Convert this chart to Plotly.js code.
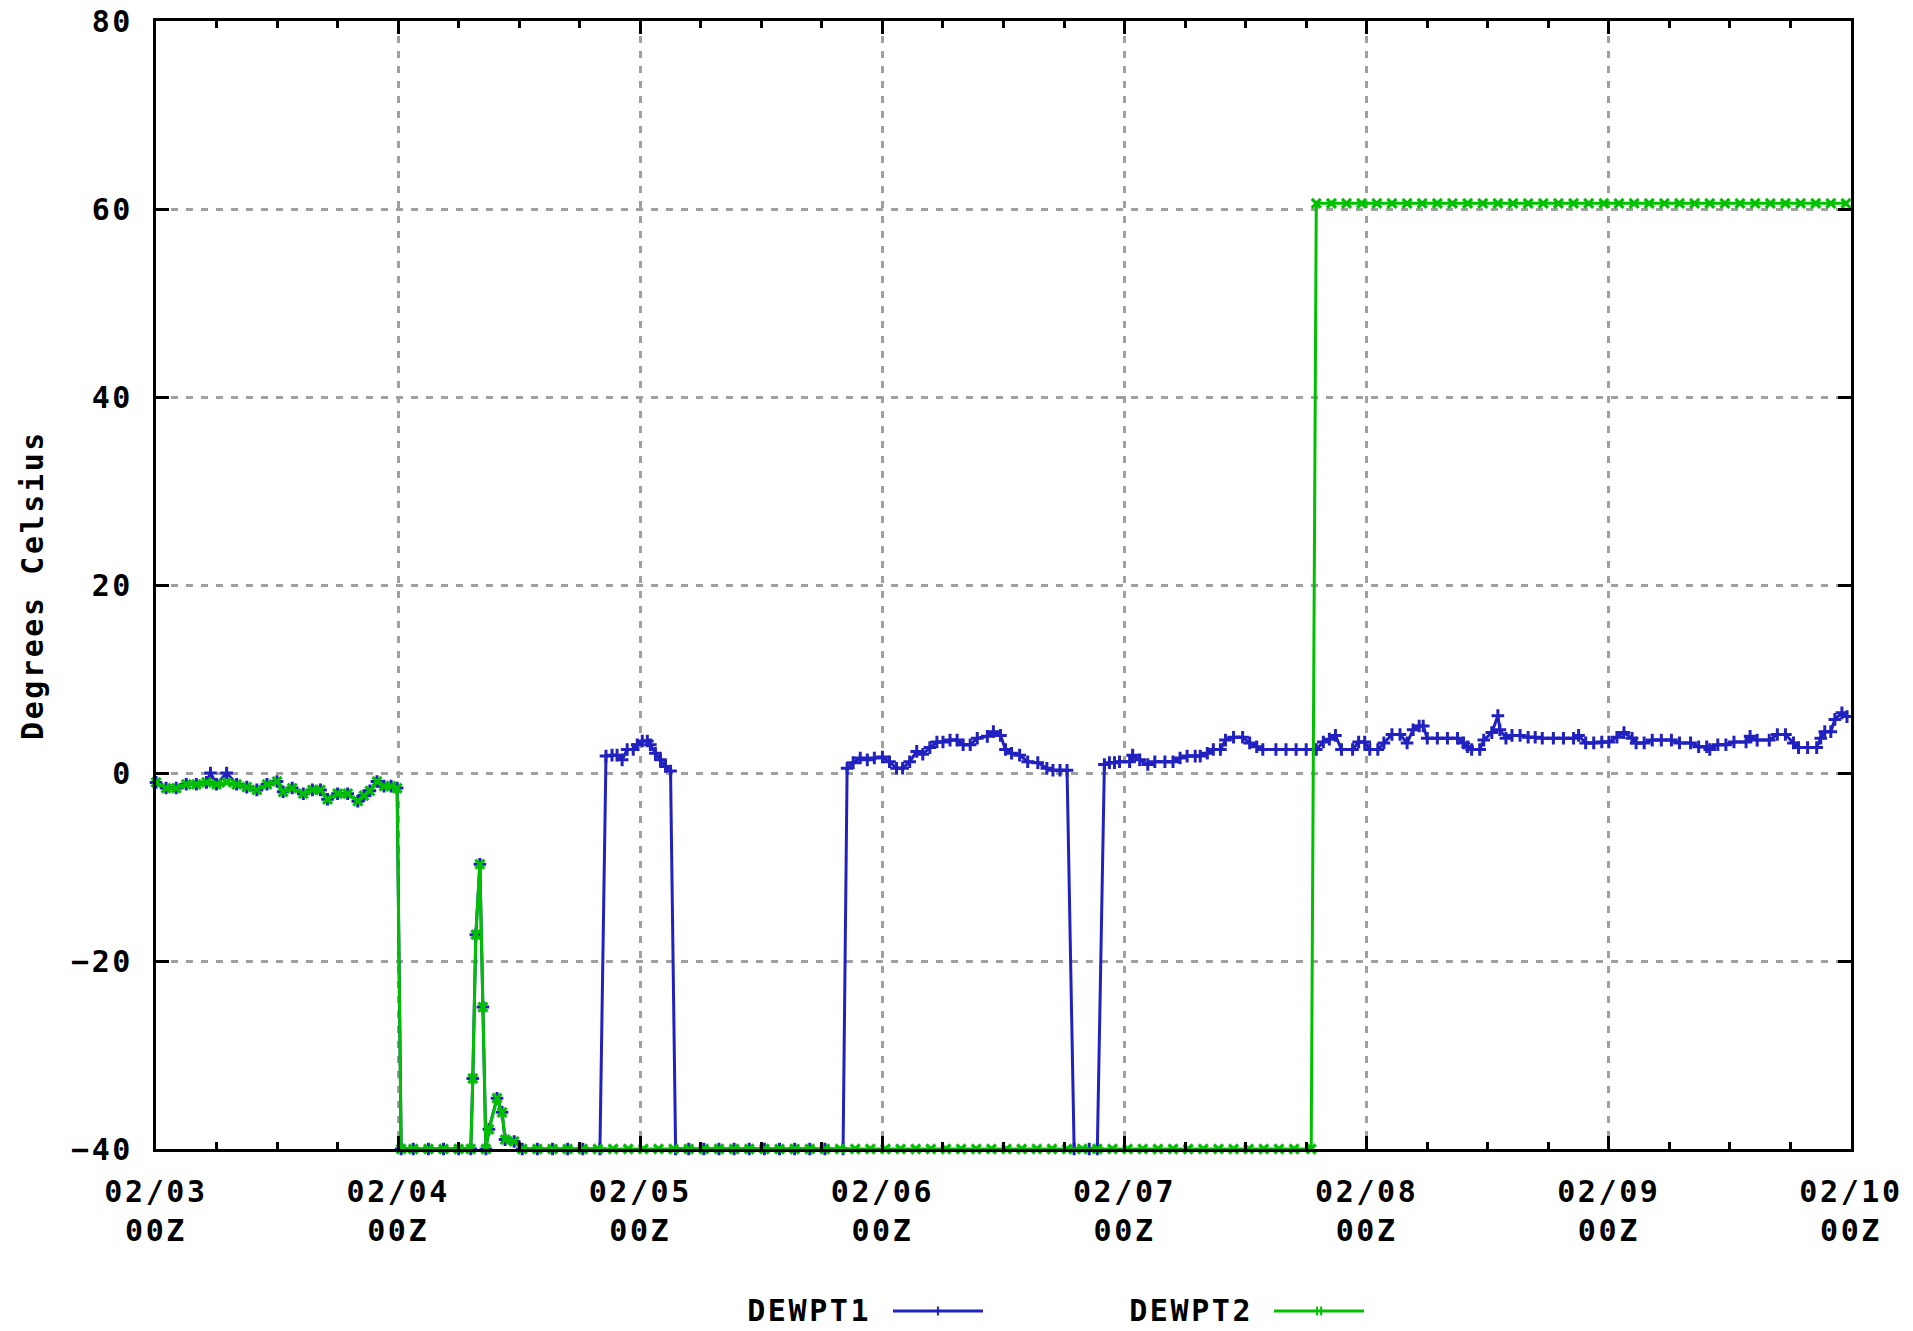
<!DOCTYPE html>
<html>
<head>
<meta charset="utf-8">
<script src="https://cdn.plot.ly/plotly-3.0.1.min.js"></script>
<style>
  html, body { margin: 0; padding: 0; background: #ffffff; }
  #chart { width: 1913px; height: 1331px; }
  #chart svg text { letter-spacing: 2.6px; }
</style>
</head>
<body>
<div id="chart"></div>
<script>
// ---- Data (hours since 02/03 00Z, degrees Celsius) ----
const hours1 = [
  0,1,2,3,4,5,5.4,6,7,8,9,10,11,12,12.6,13.5,14.6,15.5,16.3,17,18,19,20,20.6,21.2,21.9,22.6,23.3,23.9,
  24.3,25.5,27,28.5,30,31.2,31.4,31.7,32.1,32.4,32.7,33.0,33.8,34.3,34.6,35.5,36.3,
  37.8,39.3,40.8,42.3,44.0,44.6,45.2,45.7,46.2,46.7,47.3,47.7,48.2,48.7,49.0,49.5,50.0,50.5,51.0,51.5,
  52.8,54.3,55.8,57.3,58.8,60.3,61.8,63.3,64.8,66.3,68.1,68.5,
  69.1,69.8,70.5,71.2,72.0,72.7,73.4,74.0,74.7,75.4,76.0,76.7,77.4,78.0,78.7,79.4,80.0,80.7,81.4,82.4,83.0,83.7,
  84.2,84.8,85.6,86.4,87.4,88.3,88.9,89.6,90.3,91.0,92.5,93.3,94.0,
  94.5,95.0,95.5,96.5,96.8,97.5,98.3,99.0,100.0,100.8,101.5,102.2,103.0,103.5,104.2,104.8,105.5,106.0,106.8,107.7,
  108.4,109.1,109.7,111.0,112.0,113.0,114.0,115.0,115.7,116.3,116.9,117.5,118.6,119.2,119.8,120.3,121.1,121.7,
  122.5,123.3,124.0,124.6,125.2,125.6,126.0,127.0,128.0,129.0,129.6,130.0,130.4,131.2,131.6,132.4,133.0,133.2,
  133.8,134.4,135.2,136.0,136.7,137.4,138.5,139.5,140.5,141.0,141.7,142.5,143.3,144.0,144.8,145.5,146.3,146.7,
  147.5,148.3,149.2,150.2,151.0,152.1,152.9,153.7,154.0,154.8,155.6,156.4,157.6,158.0,158.7,159.9,160.7,161.5,
  162.3,162.8,163.7,164.6,165.0,165.4,166.0,166.4,167.1,167.6
];
const dewpt1 = [
  -1.0,-1.6,-1.6,-1.2,-1.2,-1.0,0,-1.2,0,-1.2,-1.5,-1.8,-1.2,-0.9,-2.0,-1.6,-2.2,-1.8,-1.8,-2.8,-2.2,-2.2,-3.0,-2.4,-1.9,-0.9,-1.4,-1.4,-1.6,
  -40,-40,-40,-40,-40,-40,-32.5,-17.2,-9.7,-24.9,-40,-37.9,-34.6,-36.1,-39,-39.2,-40,
  -40,-40,-40,-40,-40,1.8,1.9,1.9,1.4,2.5,2.5,3.0,3.4,3.4,3.0,2.1,1.4,0.7,0.2,-40,
  -40,-40,-40,-40,-40,-40,-40,-40,-40,-40,-40,0.5,
  1.1,1.6,1.4,1.6,1.7,1.2,0.5,0.5,1.2,2.3,2.0,2.7,3.3,3.3,3.5,3.5,3.0,3.0,3.7,3.9,4.4,4.0,
  2.5,2.1,1.9,1.2,1.1,0.5,0.3,0.3,0.3,-40,-40,-40,0.9,
  1.1,1.1,1.2,1.2,1.9,1.4,0.9,1.2,1.2,1.2,1.6,1.8,1.8,1.8,2.1,2.5,2.5,3.5,3.8,3.8,
  3.2,2.8,2.5,2.5,2.5,2.5,2.5,2.5,3.3,3.6,4.0,2.5,2.5,3.3,3.3,2.5,2.5,3.2,
  4.1,4.1,3.2,4.6,5.0,5.0,3.7,3.7,3.7,3.7,3.2,2.8,2.5,2.5,3.5,4.3,6.1,4.6,
  3.7,4.0,4.0,3.8,3.8,3.7,3.7,3.7,3.7,4.0,3.2,3.2,3.3,3.3,3.8,4.3,3.7,3.2,
  3.2,3.5,3.5,3.5,3.2,3.2,2.8,2.8,2.5,3.0,3.0,3.3,3.3,3.9,3.5,3.5,4.1,4.1,
  3.2,2.7,2.7,2.7,3.7,4.4,4.4,5.7,6.4,6.0
];
const hours2 = [
  0,1,2,3,4,5,6,7,8,9,10,11,12,12.6,13.5,14.6,15.5,16.3,17,18,19,20,20.6,21.2,21.9,22.6,23.3,23.9,
  24.3,25.5,27,28.5,30,31.2,31.4,31.7,32.1,32.4,32.7,33.0,33.8,34.3,34.6,35.5,36.3,
  37.8,39.3,40.8,42.3,43.8,45.3,46.8,48.3,49.8,51.3,52.8,54.3,55.8,57.3,58.8,60.3,61.8,63.3,64.8,66.3,
  67.8,69.3,70.8,72.3,73.8,75.3,76.8,78.3,79.8,81.3,82.8,84.3,85.8,87.3,88.8,90.3,91.8,93.3,94.8,96.3,
  97.8,99.3,100.8,102.3,103.8,105.3,106.8,108.3,109.8,111.3,112.8,114.5,115.0,
  116.5,118,119.5,121,122.5,124,125.5,127,128.5,130,131.5,133,134.5,136,137.5,139,140.5,142,
  143.5,145,146.5,148,149.5,151,152.5,154,155.5,157,158.5,160,161.5,163,164.5,166,167.5
];
const dewpt2 = [
  -1.0,-1.6,-1.6,-1.2,-1.2,-1.0,-1.2,-1.0,-1.2,-1.5,-1.8,-1.2,-0.9,-2.0,-1.6,-2.2,-1.8,-1.8,-2.8,-2.2,-2.2,-3.0,-2.4,-1.9,-0.9,-1.4,-1.4,-1.6,
  -40,-40,-40,-40,-40,-40,-32.5,-17.2,-9.7,-24.9,-40,-37.9,-34.6,-36.1,-39,-39.2,-40,
  -40,-40,-40,-40,-40,-40,-40,-40,-40,-40,-40,-40,-40,-40,-40,-40,-40,-40,-40,-40,
  -40,-40,-40,-40,-40,-40,-40,-40,-40,-40,-40,-40,-40,-40,-40,-40,-40,-40,-40,-40,
  -40,-40,-40,-40,-40,-40,-40,-40,-40,-40,-40,-40,60.6,
  60.6,60.6,60.6,60.6,60.6,60.6,60.6,60.6,60.6,60.6,60.6,60.6,60.6,60.6,60.6,60.6,60.6,60.6,
  60.6,60.6,60.6,60.6,60.6,60.6,60.6,60.6,60.6,60.6,60.6,60.6,60.6,60.6,60.6,60.6,60.6
];
const seriesNames = ['DEWPT1', 'DEWPT2'];
const tickHours = [0, 24, 48, 72, 96, 120, 144, 168];
const tickLabels = ['02/03<br>00Z','02/04<br>00Z','02/05<br>00Z','02/06<br>00Z','02/07<br>00Z','02/08<br>00Z','02/09<br>00Z','02/10<br>00Z'];
const yTicks = [-40, -20, 0, 20, 40, 60, 80];
const yTitle = 'Degrees Celsius';

// ---- Styles ----
const BLUE = '#2121c0';
const GREEN = '#00c000';
const FONT = { family: '"DejaVu Sans Mono", "Liberation Mono", monospace', size: 30, color: '#000000', weight: 'bold' };
const GRID = { showgrid: true, gridcolor: '#a0a0a0', gridwidth: 3, griddash: '7px,8px' };
const MINOR = { ticks: 'inside', ticklen: 7, tickwidth: 3, tickcolor: '#000000', dtick: 6, tick0: 0, showgrid: false };

const traces = [
  {
    x: hours1, y: dewpt1, name: seriesNames[0], type: 'scatter', mode: 'lines+markers',
    xaxis: 'x', yaxis: 'y',
    line: { color: BLUE, width: 3 },
    marker: { symbol: 'cross-thin-open', size: 9, color: BLUE, line: { color: BLUE, width: 3 } },
    cliponaxis: false, showlegend: false
  },
  {
    x: hours2, y: dewpt2, name: seriesNames[1], type: 'scatter', mode: 'lines+markers',
    xaxis: 'x2', yaxis: 'y',
    line: { color: GREEN, width: 3 },
    marker: { symbol: 'x-thin-open', size: 9, color: GREEN, line: { color: GREEN, width: 3.2 } },
    cliponaxis: false, showlegend: false
  }
];

const legY = -0.1436;
const layout = {
  width: 1913, height: 1331,
  margin: { l: 156, r: 62, t: 21, b: 182 },
  paper_bgcolor: '#ffffff', plot_bgcolor: '#ffffff',
  font: FONT,
  showlegend: false,
  xaxis: Object.assign({
    range: [0, 168], tickmode: 'array', tickvals: tickHours, ticktext: tickLabels,
    ticks: 'inside', ticklen: 13, tickwidth: 3, tickcolor: '#000000',
    showline: true, linewidth: 3, linecolor: '#000000', mirror: true,
    zeroline: false, tickfont: FONT, ticklabelstandoff: 14,
    minor: MINOR, fixedrange: true
  }, GRID),
  xaxis2: {
    overlaying: 'x', side: 'top', anchor: 'y', range: [0, 168],
    tickmode: 'array', tickvals: tickHours, showticklabels: false,
    ticks: 'inside', ticklen: 13, tickwidth: 3, tickcolor: '#000000',
    showline: false, showgrid: false, zeroline: false,
    minor: MINOR, fixedrange: true
  },
  yaxis: Object.assign({
    range: [-40, 80], tickmode: 'array', tickvals: yTicks,
    ticks: 'inside', ticklen: 13, tickwidth: 3, tickcolor: '#000000',
    showline: true, linewidth: 3, linecolor: '#000000', mirror: 'ticks',
    zeroline: false, tickfont: FONT, ticklabelstandoff: 14,
    title: { text: yTitle, font: FONT, standoff: 27 },
    automargin: false, fixedrange: true
  }, GRID),
  annotations: [
    { xref: 'paper', yref: 'paper', x: 0.4185, y: legY, xanchor: 'right', yanchor: 'middle', text: seriesNames[0], showarrow: false, font: FONT },
    { xref: 'paper', yref: 'paper', x: 0.6435, y: legY, xanchor: 'right', yanchor: 'middle', text: seriesNames[1], showarrow: false, font: FONT }
  ],
  shapes: [
    { type: 'line', xref: 'paper', yref: 'paper', x0: 0.4348, x1: 0.4879, y0: legY, y1: legY, line: { color: BLUE, width: 3 } },
    { type: 'line', xref: 'paper', yref: 'paper', x0: 0.4613, x1: 0.4613, y0: legY - 0.004, y1: legY + 0.004, line: { color: BLUE, width: 2 } },
    { type: 'line', xref: 'paper', yref: 'paper', x0: 0.6596, x1: 0.7127, y0: legY, y1: legY, line: { color: GREEN, width: 3 } },
    { type: 'line', xref: 'paper', yref: 'paper', x0: 0.6850, x1: 0.6850, y0: legY - 0.004, y1: legY + 0.004, line: { color: GREEN, width: 2 } },
    { type: 'line', xref: 'paper', yref: 'paper', x0: 0.6874, x1: 0.6874, y0: legY - 0.004, y1: legY + 0.004, line: { color: GREEN, width: 2 } }
  ]
};

Plotly.newPlot('chart', traces, layout, { displayModeBar: false, staticPlot: true });
</script>
</body>
</html>
